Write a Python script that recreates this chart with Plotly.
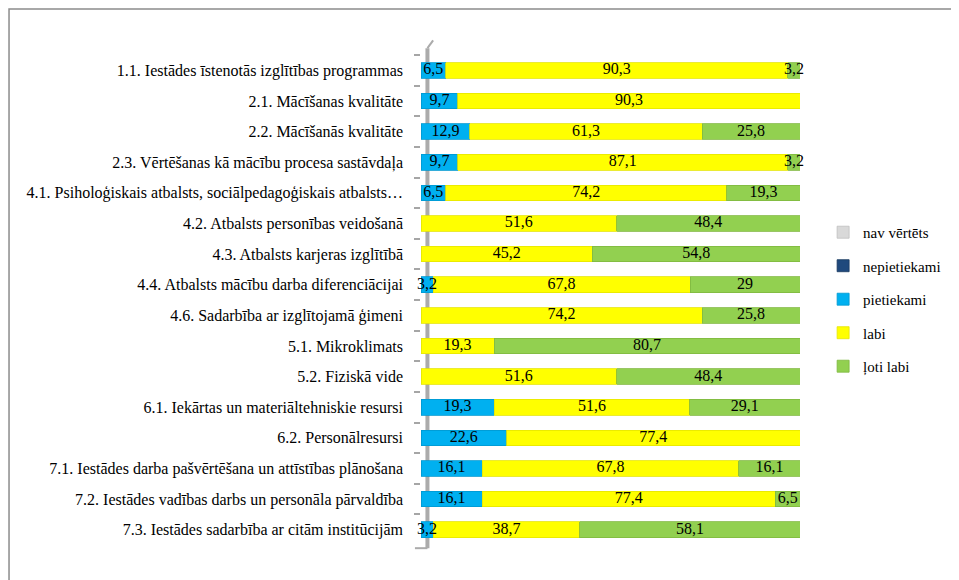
import plotly.graph_objs as go

categories = [
    "1.1. Iestādes īstenotās izglītības programmas",
    "2.1. Mācīšanas kvalitāte",
    "2.2. Mācīšanās kvalitāte",
    "2.3. Vērtēšanas kā mācību procesa sastāvdaļa",
    "4.1. Psiholoģiskais atbalsts, sociālpedagoģiskais atbalsts…",
    "4.2. Atbalsts personības veidošanā",
    "4.3. Atbalsts karjeras izglītībā",
    "4.4. Atbalsts mācību darba diferenciācijai",
    "4.6. Sadarbība ar izglītojamā ģimeni",
    "5.1. Mikroklimats",
    "5.2. Fiziskā vide",
    "6.1. Iekārtas un materiāltehniskie resursi",
    "6.2. Personālresursi",
    "7.1. Iestādes darba pašvērtēšana un attīstības plānošana",
    "7.2. Iestādes vadības darbs un personāla pārvaldība",
    "7.3. Iestādes sadarbība ar citām institūcijām",
]

nav_vertets = [0] * 16
nepietiekami = [0] * 16
pietiekami = [6.5, 9.7, 12.9, 9.7, 6.5, 0, 0, 3.2, 0, 0, 0, 19.3, 22.6, 16.1, 16.1, 3.2]
labi = [90.3, 90.3, 61.3, 87.1, 74.2, 51.6, 45.2, 67.8, 74.2, 19.3, 51.6, 51.6, 77.4, 67.8, 77.4, 38.7]
loti_labi = [3.2, 0, 25.8, 3.2, 19.3, 48.4, 54.8, 29, 25.8, 80.7, 48.4, 29.1, 0, 16.1, 6.5, 58.1]

series = [
    ("nav vērtēts", nav_vertets, "#D9D9D9", "#BFBFBF"),
    ("nepietiekami", nepietiekami, "#1F497D", "#17375E"),
    ("pietiekami", pietiekami, "#00B0F0", "#0099D1"),
    ("labi", labi, "#FFFF00", "#E6E600"),
    ("ļoti labi", loti_labi, "#92D050", "#7FB83F"),
]

FONT = "Liberation Serif"


def fmt(v):
    if v == 0:
        return ""
    s = f"{v:g}"
    return s.replace(".", ",")


fig = go.Figure()

# stabiņi
for name, vals, color, edge in series:
    fig.add_trace(
        go.Bar(
            y=categories,
            x=vals,
            name=name,
            orientation="h",
            legendgroup=name,
            marker={"color": color, "line": {"width": 0.8, "color": edge}},
            hoverinfo="x+name",
        )
    )

# datu etiķetes virs visiem stabiņiem (lai mazās vērtības nepārklātu)
start = [0] * len(categories)
for name, vals, color, edge in series:
    mids = [s + v / 2 for s, v in zip(start, vals)]
    fig.add_trace(
        go.Scatter(
            y=categories,
            x=mids,
            mode="text",
            text=[fmt(v) for v in vals],
            textposition="middle center",
            textfont={"color": "black", "size": 16, "family": FONT},
            showlegend=False,
            hoverinfo="skip",
            cliponaxis=False,
        )
    )
    start = [s + v for s, v in zip(start, vals)]

fig.update_layout(
    template="none",
    barmode="stack",
    bargap=0.49,
    width=959,
    height=580,
    autosize=False,
    plot_bgcolor="white",
    paper_bgcolor="white",
    font={"family": FONT, "color": "black", "size": 16},
    margin={"l": 413, "r": 167, "t": 47, "b": 43},
    showlegend=True,
    legend={
        "x": 1.061,
        "y": 0.6715,
        "xanchor": "left",
        "yanchor": "top",
        "traceorder": "grouped",
        "tracegroupgap": 11,
        "itemwidth": 30,
        "font": {"size": 15, "family": FONT},
        "bgcolor": "rgba(0,0,0,0)",
    },
)

# kategoriju ass
fig.update_yaxes(
    type="category",
    range=[15.5, -0.5],
    automargin=False,
    showline=False,
    ticks="outside",
    tickson="boundaries",
    ticklen=6,
    tickcolor="#A6A6A6",
    tickwidth=1.5,
    showgrid=False,
    zeroline=False,
    ticklabelstandoff=17,
)

fig.update_xaxes(
    range=[0, 100],
    visible=False,
    showgrid=False,
    automargin=False,
)

# pelēkā "siena" aiz stabiņiem
fig.add_shape(
    type="line", xref="paper", yref="paper",
    x0=0.017, x1=0.017, y0=-0.0065, y1=1.014,
    line={"color": "#ABABAB", "width": 4},
    layer="below",
)
fig.add_shape(
    type="line", xref="paper", yref="paper",
    x0=0.017, x1=0.032, y0=1.014, y1=1.03,
    line={"color": "#ABABAB", "width": 2},
    layer="below",
)
fig.add_shape(
    type="line", xref="paper", yref="paper",
    x0=-0.016, x1=0.017, y0=-0.0065, y1=-0.0065,
    line={"color": "#ABABAB", "width": 2},
    layer="below",
)

# diagrammas rāmis
fig.add_shape(
    type="rect",
    xref="paper",
    yref="paper",
    x0=-1.087,
    x1=2.0,
    y0=-1.0,
    y1=1.0938,
    line={"color": "#8C8C8C", "width": 1.5},
    fillcolor="rgba(0,0,0,0)",
    layer="below",
)

fig.write_html("out.html")
